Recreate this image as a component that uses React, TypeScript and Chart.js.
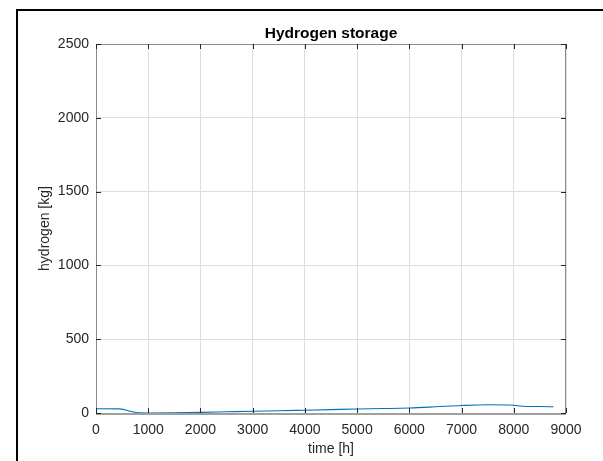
import React, { useEffect, useRef } from 'react';
import { Chart, registerables } from 'chart.js';

Chart.register(...registerables);

const timeHours = [0, 450, 550, 650, 750, 850, 1000, 1500, 2000, 2500, 3000, 3500, 4000, 4500, 5000, 5500, 6000, 6500, 7000, 7500, 8000, 8150, 8500, 8760];
const hydrogenKg = [29, 28, 22, 12, 5, 1, 0, 1, 4, 8, 12, 15, 19, 23, 27, 30, 34, 42, 51, 56, 53, 46, 44, 42];
const xTicks = [0, 1000, 2000, 3000, 4000, 5000, 6000, 7000, 8000, 9000];
const yTicks = [0, 500, 1000, 1500, 2000, 2500];

const FONT = "'Liberation Sans', Arial, Helvetica, sans-serif";

const boxTicks = {
  id: 'boxTicks',
  afterDraw(chart: any) {
    const { ctx, chartArea, scales } = chart;
    const { left, right, top, bottom } = chartArea;
    const x = scales.x;
    const y = scales.y;
    ctx.save();
    ctx.strokeStyle = '#8c8c8c';
    ctx.lineWidth = 1;
    ctx.beginPath();
    ctx.moveTo(left + 0.5, bottom);
    ctx.lineTo(left + 0.5, top + 0.5);
    ctx.lineTo(right - 0.5, top + 0.5);
    ctx.lineTo(right - 0.5, bottom);
    ctx.stroke();
    ctx.strokeStyle = '#a0a0a0';
    ctx.lineWidth = 2;
    ctx.beginPath();
    ctx.moveTo(left, bottom + 1);
    ctx.lineTo(right, bottom + 1);
    ctx.stroke();
    ctx.strokeStyle = '#262626';
    ctx.lineWidth = 1;
    ctx.beginPath();
    xTicks.forEach((v) => {
      const px = Math.round(x.getPixelForValue(v)) + 0.5;
      ctx.moveTo(px, bottom);
      ctx.lineTo(px, bottom - 5);
      ctx.moveTo(px, top);
      ctx.lineTo(px, top + 5);
    });
    yTicks.forEach((v) => {
      const py = Math.round(y.getPixelForValue(v)) + 0.5;
      ctx.moveTo(left, py);
      ctx.lineTo(left + 5, py);
      ctx.moveTo(right, py);
      ctx.lineTo(right - 5, py);
    });
    ctx.stroke();
    ctx.restore();
  },
};

export default function App() {
  const ref = useRef<HTMLCanvasElement | null>(null);
  useEffect(() => {
    if (!ref.current) return;
    const chart = new Chart(ref.current, {
      type: 'line',
      data: {
        datasets: [
          {
            label: 'hydrogen',
            data: timeHours.map((t, i) => ({ x: t, y: hydrogenKg[i] })),
            borderColor: '#0072BD',
            borderWidth: 1.1,
            pointRadius: 0,
            cubicInterpolationMode: 'monotone',
            fill: false,
          },
        ],
      },
      options: {
        animation: false,
        responsive: false,
        maintainAspectRatio: false,
        layout: { padding: { left: 0, top: 0, right: 37, bottom: 0 } },
        plugins: {
          legend: { display: false },
          tooltip: { enabled: false },
          title: {
            display: true,
            fullSize: false,
            text: 'Hydrogen storage',
            color: '#000000',
            font: { family: FONT, size: 15.5, weight: 'bold', lineHeight: 1.2 },
            padding: { top: 24, bottom: 1.4 },
          },
        },
        scales: {
          x: {
            type: 'linear',
            min: 0,
            max: 9000,
            afterBuildTicks: (s: any) => {
              s.ticks = xTicks.map((v) => ({ value: v }));
            },
            afterFit: (s: any) => {
              s.height = 48;
            },
            grid: { color: '#dedede', drawTicks: false, lineWidth: 1 },
            border: { display: false },
            ticks: {
              color: '#262626',
              font: { family: FONT, size: 14 },
              padding: 9,
              maxRotation: 0,
              callback: (v: any) => String(v),
            },
            title: {
              display: true,
              text: 'time [h]',
              color: '#262626',
              font: { family: FONT, size: 14, lineHeight: 1.2 },
              padding: { top: 0, bottom: 3 },
            },
          },
          y: {
            type: 'linear',
            min: 0,
            max: 2500,
            afterBuildTicks: (s: any) => {
              s.ticks = yTicks.map((v) => ({ value: v }));
            },
            afterFit: (s: any) => {
              s.width = 96;
            },
            grid: { color: '#dedede', drawTicks: false, lineWidth: 1 },
            border: { display: false },
            ticks: {
              color: '#262626',
              font: { family: FONT, size: 14 },
              padding: 7,
              callback: (v: any) => String(v),
            },
            title: {
              display: true,
              text: 'hydrogen [kg]',
              color: '#262626',
              font: { family: FONT, size: 14, lineHeight: 1.2 },
              padding: { top: 37, bottom: 0 },
            },
          },
        },
      },
      plugins: [boxTicks],
    } as any);
    return () => chart.destroy();
  }, []);

  return (
    <div style={{ position: 'absolute', left: 0, top: 0, width: 603, height: 461, overflow: 'hidden', background: '#ffffff' }}>
      <canvas ref={ref} width={603} height={461} style={{ display: 'block', width: 603, height: 461 }} />
      <div
        style={{
          position: 'absolute',
          left: 16,
          top: 9,
          width: 700,
          height: 600,
          border: '2px solid #000000',
          pointerEvents: 'none',
        }}
      />
    </div>
  );
}
